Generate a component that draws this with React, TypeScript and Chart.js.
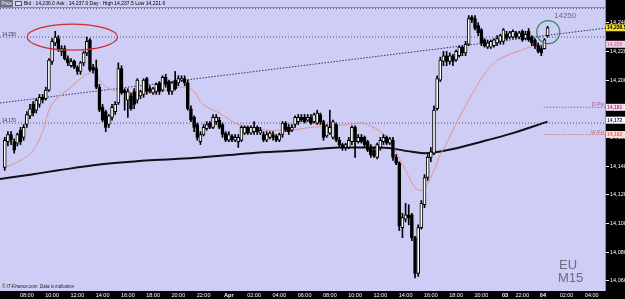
import React, { useEffect, useRef } from "react";
import { Chart, registerables } from "chart.js";

Chart.register(...registerables);

// ---------------- DATA ----------------
const FIRST_BAR = 1; // bar index of the first candle

const OPEN = [
  14139,14157,14162,14157,14156,14165,14160,14169,14175,14183,
  14179,14183,14188,14187,14193,14213,14226,14229,14220,14222,
  14215,14210,14213,14209,14206,14212,14219,14228,14209,14208,
  14195,14181,14178,14169,14174,14178,14184,14208,14193,14186,
  14189,14192,14186,14189,14190,14201,14194,14191,14192,14198,
  14193,14202,14199,14192,14200,14198,14200,14201,14198,14180,
  14174,14169,14157,14162,14166,14170,14167,14171,14172,14169,
  14163,14158,14161,14158,14157,14158,14163,14167,14163,14164,
  14167,14163,14162,14158,14160,14162,14161,14158,14162,14170,
  14167,14165,14169,14171,14174,14174,14172,14174,14171,14170,
  14176,14171,14161,14163,14160,14169,14158,14155,14153,14153,
  14157,14167,14157,14160,14160,14157,14153,14151,14146,14153,
  14157,14160,14156,14158,14146,14142,14097,14103,14106,14106,
  14090,14065,14097,14113,14132,14146,14149,14180,14200,14213,
  14217,14213,14217,14214,14217,14223,14219,14225,14244,14243,
  14238,14235,14228,14223,14223,14224,14226,14227,14227,14232,
  14230,14230,14233,14230,14234,14229,14234,14230,14228,14224,
  14222,14222,14231,
];

const HIGH = [
  14160,14164,14164,14159,14163,14167,14169,14178,14183,14185,
  14187,14190,14190,14195,14215,14229,14234,14231,14224,14224,
  14217,14215,14214,14210,14213,14220,14230,14229,14211,14214,
  14197,14183,14179,14176,14183,14185,14212,14210,14194,14194,
  14191,14194,14201,14193,14201,14202,14196,14195,14198,14199,
  14203,14204,14200,14199,14206,14203,14203,14203,14200,14182,
  14175,14170,14164,14169,14171,14171,14176,14176,14174,14170,
  14164,14164,14162,14162,14162,14168,14168,14168,14168,14171,
  14168,14167,14164,14164,14164,14164,14162,14163,14171,14171,
  14169,14169,14175,14176,14176,14176,14176,14176,14177,14179,
  14177,14172,14169,14179,14172,14170,14160,14156,14156,14160,
  14168,14168,14162,14162,14161,14158,14155,14153,14156,14160,
  14162,14161,14160,14160,14148,14143,14107,14114,14113,14107,
  14091,14099,14116,14134,14148,14153,14182,14203,14216,14220,
  14220,14219,14218,14221,14224,14224,14227,14245,14245,14245,
  14240,14236,14229,14228,14228,14229,14231,14232,14236,14234,
  14234,14235,14234,14234,14235,14234,14236,14231,14229,14226,
  14224,14229,14237.5,
];

const LOW = [
  14137,14154,14155,14149,14154,14155,14158,14167,14173,14175,
  14177,14181,14184,14186,14192,14211,14224,14220,14217,14214,
  14210,14209,14208,14204,14204,14210,14217,14206,14205,14194,
  14178,14171,14164,14167,14172,14176,14183,14190,14179,14174,
  14179,14180,14184,14187,14188,14190,14191,14190,14190,14190,
  14192,14195,14190,14190,14193,14196,14199,14196,14179,14171,
  14164,14158,14155,14161,14165,14166,14166,14169,14166,14160,
  14157,14157,14157,14157,14153,14157,14162,14162,14162,14162,
  14162,14162,14157,14157,14159,14158,14157,14157,14160,14164,
  14162,14164,14167,14169,14171,14170,14171,14169,14170,14169,
  14169,14158,14160,14162,14159,14157,14153,14151,14151,14152,
  14155,14146,14156,14156,14153,14150,14146,14146,14145,14151,
  14155,14155,14155,14144,14141,14095,14090,14101,14099,14088,
  14062,14063,14096,14111,14130,14143,14148,14179,14199,14210,
  14210,14211,14210,14213,14216,14217,14217,14224,14240,14235,
  14231,14224,14223,14222,14222,14223,14224,14225,14225,14228,
  14229,14229,14229,14229,14227,14228,14227,14224,14222,14219,
  14217,14221.6,14230,
];

const CLOSE = [
  14158,14162,14158,14151,14162,14157,14167,14176,14180,14177,
  14186,14188,14186,14193,14214,14227,14230,14222,14222,14215,
  14212,14213,14209,14206,14212,14219,14227,14207,14207,14195,
  14179,14172,14167,14175,14181,14183,14208,14191,14191,14192,
  14180,14183,14200,14192,14200,14192,14192,14194,14197,14192,
  14202,14197,14192,14198,14194,14201,14201,14198,14180,14172,
  14167,14160,14162,14167,14169,14167,14174,14174,14167,14162,
  14158,14162,14158,14160,14160,14167,14167,14163,14167,14167,
  14164,14165,14158,14162,14163,14160,14158,14162,14170,14165,
  14164,14167,14174,14174,14172,14171,14174,14170,14176,14177,
  14171,14160,14168,14167,14171,14158,14155,14153,14155,14158,
  14167,14157,14160,14157,14155,14151,14148,14147,14155,14158,
  14160,14156,14159,14146,14142,14098,14104,14106,14104,14090,
  14065,14097,14114,14132,14146,14150,14179,14201,14214,14217,
  14213,14217,14213,14220,14223,14219,14225,14243,14242,14236,
  14233,14226,14224,14226,14227,14228,14229,14231,14235,14229,
  14233,14234,14230,14233,14228,14232,14228,14226,14224,14220,
  14219,14228,14236.5,
];

// fast moving average (pink)
const PINK_MA_IDX = [1,6,10,13,15,17,19,22,25,28,30,31,34,38,44,50,57,58,61,63,66,69,74,79,85,91,98,104,110,114,117,120,123,125,128,131,133,136,139,141,145,148,152,155,158,163,169,173];
const PINK_MA = [14139,14144,14151,14164,14179,14186,14190,14195,14201,14205,14204,14200,14194,14192,14191,14192,14195,14195,14192,14185,14180,14177,14170,14167,14165,14165,14167,14168,14169,14170,14168,14164,14158,14150,14137,14125,14123,14132,14148,14156,14174,14186,14201,14210,14215,14219.5,14224,14225];

// slow moving average (thick black)
const BLACK_MA_IDX = [-0.5,9,18,31,47,63,79,95,107,120,130,134,141,152,162,173];
const BLACK_MA = [14131,14134,14137,14141,14144,14146,14149,14151,14153,14153,14150,14149,14151,14157,14163,14171];

// horizontal levels
const LEVELS = [14250, 14230, 14170];
const LEVEL_LABELS = ["", "14,230", "14,170"];

// trend line
const TREND_IDX = [-0.5, 191.5];
const TREND = [14184, 14236.3];

// pivots
const PIVOT_FROM = 171.8;
const D_PIV = 14181;
const W_PIV = 14162;

// axes
const X_MIN = -0.5;
const X_MAX = 191.5;
const Y_MIN = 14052.8;
const Y_MAX = 14250.3;
const Y_TICKS = [14060, 14080, 14100, 14120, 14140, 14160, 14180, 14200, 14220, 14240];
const X_TICK_POS = [8,16,24,32,40,48,56,64,72,80,88,96,104,112,120,128,136,144,152,159.5,165,171.5,179,187];
const X_TICK_LABELS = ["08:00","10:00","12:00","14:00","16:00","18:00","20:00","22:00","Apr","02:00","04:00","06:00","08:00","10:00","12:00","14:00","16:00","18:00","20:00","03","22:00","04","02:00","04:00"];
const X_TICK_BOLD = ["Apr", "03", "04"];

// price markers on the right axis
const LAST_PRICE = 14236.5;
const PINK_MA_LAST = 14225;
const BLACK_MA_LAST = 14172;

// annotations
const ELLIPSE = { i: 22.4, p: 14230, di: 14.3, dp: 9.1 };
const CIRCLE = { i: 173.2, p: 14233.5, r: 11.5 };
const NOTE_TEXT = "14250";
const HEADER_TEXT = "Bid : 14,236.0 Ask : 14,237.0 Day : High 14,237.5 Low 14,221.6";
const FOOTER_TEXT = "\u00A9 IT-Finance.com  Data is indicative";

// ---------------- STYLE ----------------
const FONT = "'Liberation Sans', Arial, sans-serif";
const LAVENDER = "#cdcdf6";

const fmt = (v: number) => {
  const s = String(v);
  return s.slice(0, 2) + "," + s.slice(2);
};

const decorPlugin = {
  id: "decor",
  beforeDraw(chart: any) {
    const { ctx, chartArea: a, width, height } = chart;
    ctx.save();
    ctx.fillStyle = "#000";
    ctx.fillRect(0, 0, width, height);
    ctx.fillStyle = LAVENDER;
    ctx.fillRect(0, 0, a.right, a.bottom);
    ctx.fillStyle = "#8c8ca8";
    ctx.fillRect(0, a.top - 1, a.right, 1);
    ctx.fillRect(a.right - 1, 0, 1, a.bottom);
    ctx.restore();
  },
  afterDatasetsDraw(chart: any) {
    const { ctx, chartArea: a } = chart;
    const xs = chart.scales.x;
    const ys = chart.scales.y;
    ctx.save();
    // red ellipse
    const ex = xs.getPixelForValue(ELLIPSE.i);
    const ey = ys.getPixelForValue(ELLIPSE.p);
    const erx = xs.getPixelForValue(ELLIPSE.i + ELLIPSE.di) - ex;
    const ery = ys.getPixelForValue(ELLIPSE.p - ELLIPSE.dp) - ey;
    ctx.strokeStyle = "#d02a2a";
    ctx.lineWidth = 1.2;
    ctx.beginPath();
    ctx.ellipse(ex, ey, erx, ery, 0, 0, Math.PI * 2);
    ctx.stroke();
    // green circle
    const cx = xs.getPixelForValue(CIRCLE.i);
    const cy = ys.getPixelForValue(CIRCLE.p);
    ctx.strokeStyle = "#2b8a4e";
    ctx.beginPath();
    ctx.arc(cx, cy, CIRCLE.r, 0, Math.PI * 2);
    ctx.stroke();
    // note text
    ctx.fillStyle = "#6a6a7e";
    ctx.font = `8px ${FONT}`;
    ctx.textBaseline = "alphabetic";
    ctx.textAlign = "left";
    ctx.fillText(NOTE_TEXT, 554, 17.5);
    // level labels
    ctx.font = `4.5px ${FONT}`;
    ctx.fillStyle = "#333344";
    LEVELS.forEach((lv, k) => {
      if (!LEVEL_LABELS[k]) return;
      ctx.fillText(LEVEL_LABELS[k], 2, ys.getPixelForValue(lv) - 1);
    });
    // pivot labels
    ctx.font = `5px ${FONT}`;
    ctx.textAlign = "right";
    ctx.fillStyle = "#c0407a";
    ctx.fillText("D Piv", a.right - 2, ys.getPixelForValue(D_PIV) - 1);
    ctx.fillStyle = "#d0684a";
    ctx.fillText("W Piv", a.right - 2, ys.getPixelForValue(W_PIV) - 1);
    // EU / M15
    ctx.textAlign = "left";
    ctx.fillStyle = "#6b6b80";
    ctx.font = `13px ${FONT}`;
    ctx.fillText("EU", 559, 269);
    ctx.fillText("M15", 558, 282);
    // footer
    ctx.fillStyle = "#222";
    ctx.font = `italic 4.5px ${FONT}`;
    ctx.fillText(FOOTER_TEXT, 2, a.bottom - 3);
    ctx.restore();
  },
  afterDraw(chart: any) {
    const { ctx, chartArea: a } = chart;
    const ys = chart.scales.y;
    ctx.save();
    // header
    ctx.fillStyle = LAVENDER;
    ctx.fillRect(0, 0, a.right - 1, a.top - 1);
    ctx.fillStyle = "#707080";
    ctx.fillRect(0, 0, 13, 7);
    ctx.fillStyle = "#fff";
    ctx.font = `4.5px ${FONT}`;
    ctx.textBaseline = "middle";
    ctx.textAlign = "left";
    ctx.fillText("Price", 1.5, 3.7);
    ctx.fillStyle = "#555";
    ctx.fillRect(15, 1, 7, 5);
    ctx.fillStyle = "#ddd";
    ctx.fillRect(16, 2, 5, 3);
    ctx.fillStyle = "#000";
    ctx.font = `5px ${FONT}`;
    ctx.fillText(HEADER_TEXT, 24, 3.8);
    // right axis price boxes
    const box = (price: number, text: string, bg: string, fg: string) => {
      const y = ys.getPixelForValue(price);
      ctx.fillStyle = bg;
      ctx.fillRect(a.right, y - 3.5, 19, 7);
      ctx.fillStyle = fg;
      ctx.font = `bold 5px ${FONT}`;
      ctx.textBaseline = "middle";
      ctx.fillText(text, a.right + 1, y + 0.3);
    };
    box(PINK_MA_LAST, fmt(PINK_MA_LAST), "#f3d2ea", "#d06cb0");
    box(D_PIV, fmt(D_PIV), "#f4e2f2", "#b8307a");
    box(BLACK_MA_LAST, fmt(BLACK_MA_LAST), "#ffffff", "#20206a");
    box(W_PIV, fmt(W_PIV), "#f8dede", "#e06a50");
    box(LAST_PRICE, "14,236.5", "#f2dc2c", "#000");
    ctx.restore();
  },
};

export default function App() {
  const ref = useRef<HTMLCanvasElement>(null);

  useEffect(() => {
    const canvas = ref.current;
    if (!canvas) return;

    const idx = OPEN.map((_, k) => FIRST_BAR + k);
    const bodies = idx.map((x, k) => ({ x, y: [OPEN[k], CLOSE[k]] }));
    const wicks = idx.map((x, k) => ({ x, y: [LOW[k], HIGH[k]] }));
    const bodyColors = OPEN.map((o, k) => (CLOSE[k] >= o ? "#ffffff" : "#000000"));

    const hline = (v: number, from = X_MIN, to = X_MAX) => [
      { x: from, y: v },
      { x: to, y: v },
    ];

    const lineBase = {
      type: "line" as const,
      pointRadius: 0,
      borderWidth: 1,
      fill: false,
    };

    const datasets: any[] = [
      ...LEVELS.map((lv) => ({
        ...lineBase,
        data: hline(lv),
        borderColor: "#50506a",
        borderDash: [1, 2],
        order: 10,
      })),
      {
        ...lineBase,
        data: TREND_IDX.map((x, k) => ({ x, y: TREND[k] })),
        borderColor: "#2e2e78",
        borderDash: [1.5, 1.5],
        order: 10,
      },
      {
        ...lineBase,
        data: hline(D_PIV, PIVOT_FROM),
        borderColor: "#c8508e",
        borderDash: [1.5, 1.5],
        order: 10,
      },
      {
        ...lineBase,
        data: hline(W_PIV, PIVOT_FROM),
        borderColor: "#d87a60",
        borderDash: [1.5, 1.5],
        order: 10,
      },
      {
        ...lineBase,
        data: BLACK_MA_IDX.map((x, k) => ({ x, y: BLACK_MA[k] })),
        borderColor: "#101018",
        borderWidth: 2,
        cubicInterpolationMode: "monotone",
        order: 6,
      },
      {
        ...lineBase,
        data: PINK_MA_IDX.map((x, k) => ({ x, y: PINK_MA[k] })),
        borderColor: "#e6928a",
        borderWidth: 1,
        cubicInterpolationMode: "monotone",
        order: 5,
      },
      {
        type: "bar",
        data: wicks,
        backgroundColor: "#000",
        borderWidth: 0,
        barThickness: 1,
        grouped: false,
        order: 3,
      },
      {
        type: "bar",
        data: bodies,
        backgroundColor: bodyColors,
        borderColor: "#000",
        borderWidth: 1,
        borderSkipped: false,
        barThickness: 3,
        grouped: false,
        order: 2,
      },
    ];

    const chart = new Chart(canvas, {
      type: "bar",
      data: { datasets },
      plugins: [decorPlugin],
      options: {
        responsive: false,
        animation: false,
        devicePixelRatio: 1,
        events: [],
        layout: { padding: { top: 8, left: 0, right: 0, bottom: 0 } },
        plugins: {
          legend: { display: false },
          tooltip: { enabled: false },
        },
        scales: {
          x: {
            type: "linear",
            min: X_MIN,
            max: X_MAX,
            offset: false,
            grid: { display: false, drawTicks: false, tickLength: 0 },
            border: { display: false },
            afterBuildTicks: (scale: any) => {
              scale.ticks = X_TICK_POS.map((v) => ({ value: v }));
            },
            afterFit: (scale: any) => {
              scale.height = 8;
            },
            ticks: {
              autoSkip: false,
              maxRotation: 0,
              minRotation: 0,
              padding: 1,
              color: "#ffffff",
              font: (c: any) => ({
                size: 5.5,
                family: FONT,
                weight: X_TICK_BOLD.includes(X_TICK_LABELS[c.index]) ? "bold" : "normal",
              }),
              callback: (_v: any, i: number) => X_TICK_LABELS[i],
            },
          },
          y: {
            type: "linear",
            position: "right",
            min: Y_MIN,
            max: Y_MAX,
            grid: {
              drawOnChartArea: false,
              color: "#ffffff",
              tickLength: 3,
            },
            border: { display: false },
            afterBuildTicks: (scale: any) => {
              scale.ticks = Y_TICKS.map((v) => ({ value: v }));
            },
            afterFit: (scale: any) => {
              scale.width = 19;
            },
            ticks: {
              padding: 1,
              color: "#ffffff",
              font: { size: 5.5, family: FONT },
              callback: (v: any) => fmt(Number(v)),
            },
          },
        },
      } as any,
    });

    return () => chart.destroy();
  }, []);

  return (
    <div style={{ position: "absolute", left: 0, top: 0, width: 625, height: 299 }}>
      <canvas ref={ref} width={625} height={299} style={{ display: "block", width: 625, height: 299 }} />
    </div>
  );
}
